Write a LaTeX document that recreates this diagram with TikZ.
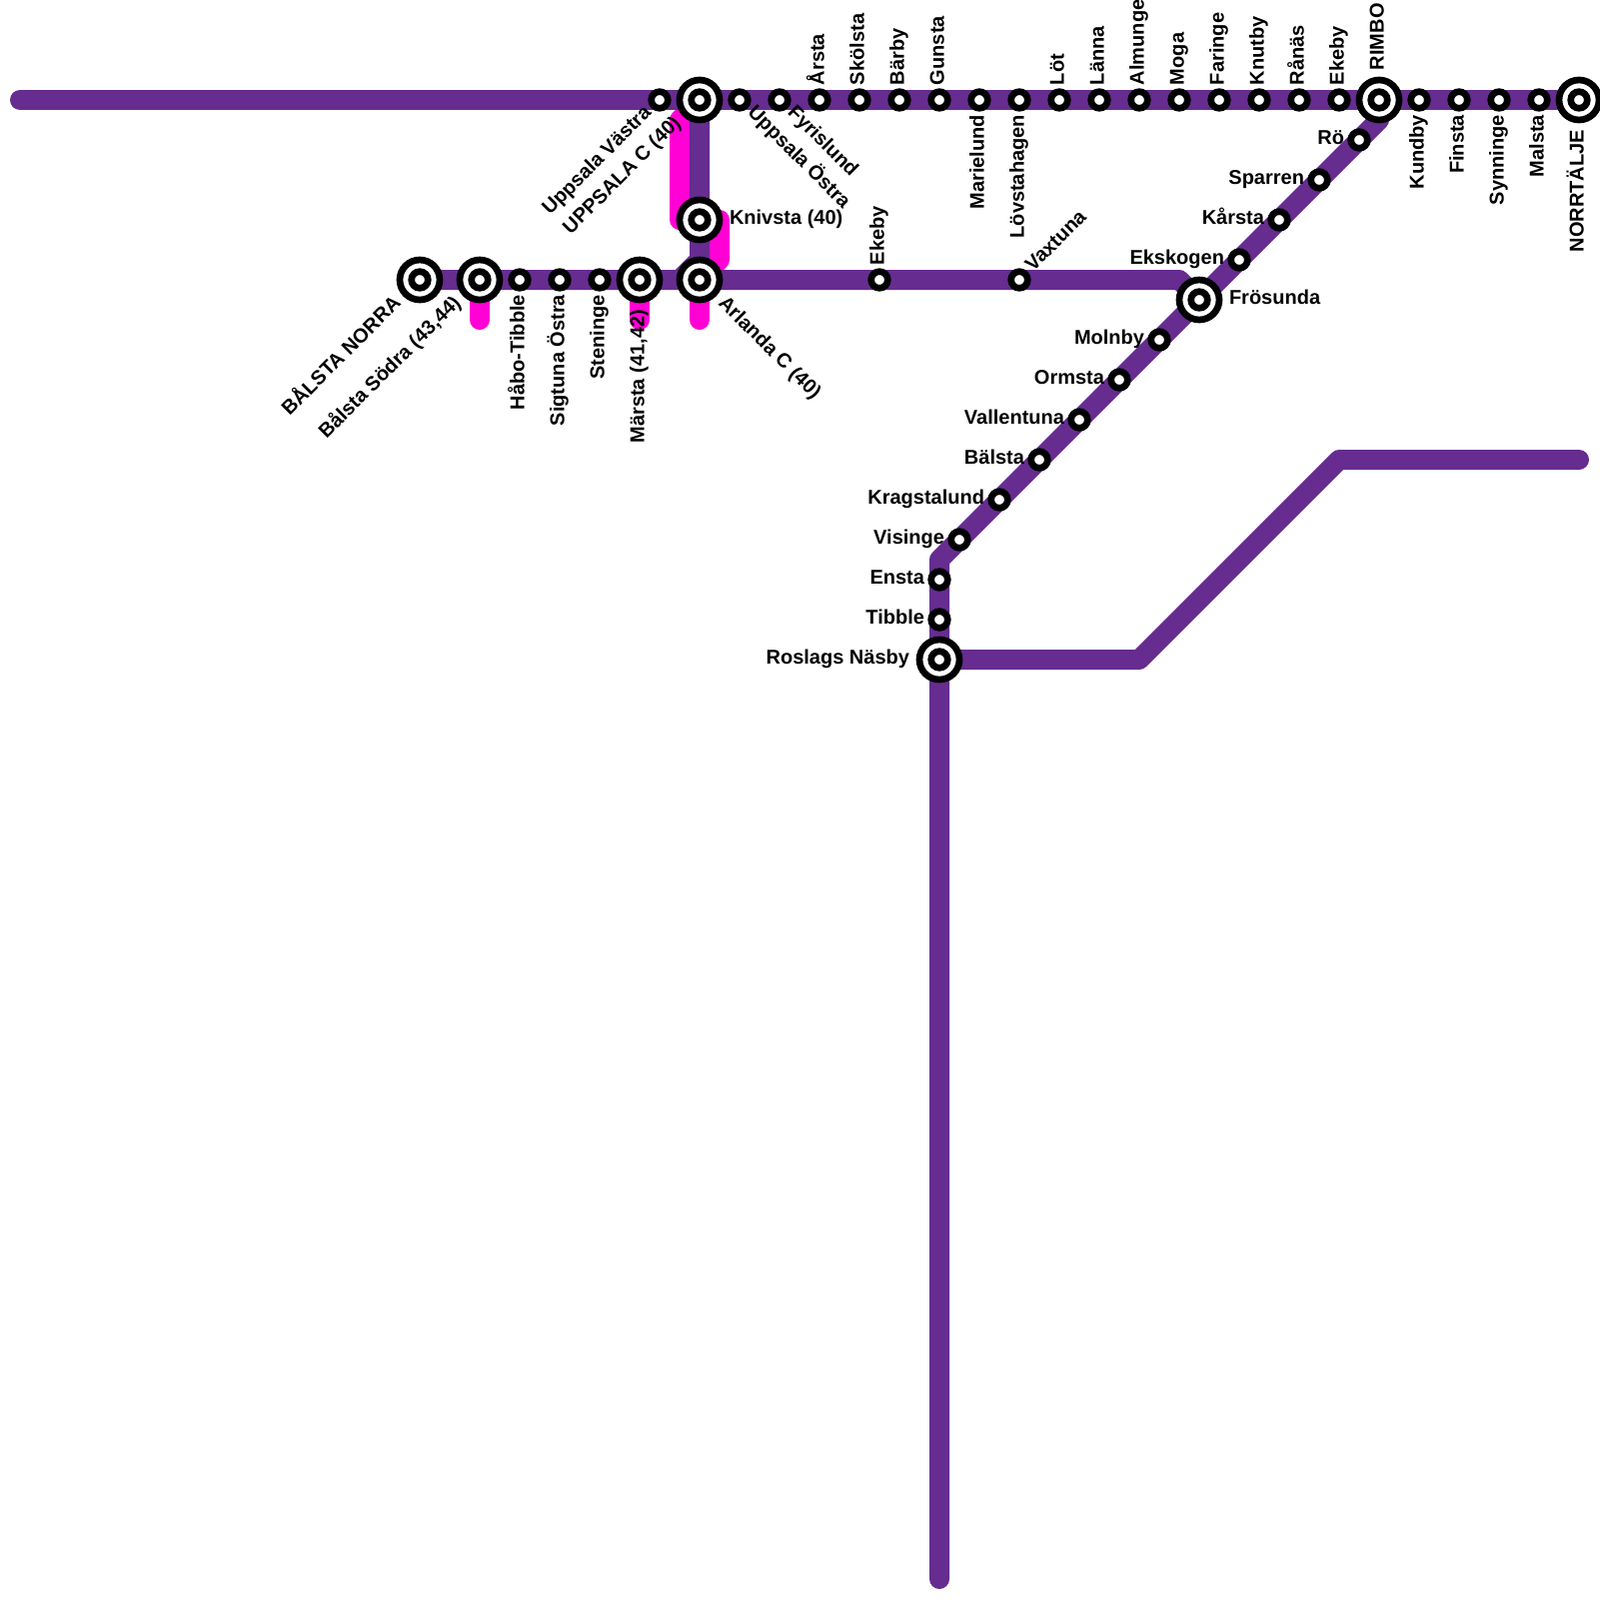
\documentclass[tikz,border=0pt]{standalone}
\usepackage{fontspec}
\setmainfont{Liberation Sans}
\usetikzlibrary{backgrounds, calc}
\definecolor{cLINE}{HTML}{662C90}
\definecolor{cBRANCH}{HTML}{FF00D5}
\tikzset{
  trackline/.style={line width=2mm, cLINE, line cap=round, line join=round},
  branchline/.style={line width=2mm, cBRANCH, line cap=round, line join=round},
  halt/.style={circle, draw=black, fill=white, line width=0.67mm, minimum size=1.66mm, inner sep=0pt, outer sep=0pt},
  hub/.style={circle, draw=black, fill=white, line width=0.67mm, minimum size=4mm, inner sep=0pt, outer sep=0pt},
  stnlabel/.style={font=\bfseries\fontsize{5.69}{6.8}\selectfont, inner sep=0pt, outer sep=0pt, text height=0.9mm, text depth=0pt}
}
\begin{document}
\begin{tikzpicture}[x=0.1mm, y=-0.1mm]
  \useasboundingbox (0,0) rectangle (1600,1600);

  % Free ends and bends
  \coordinate (westend) at (20,100);
  \coordinate (southend) at (940,1580);
  \coordinate (eastend) at (1580,460);
  \coordinate (bendA) at (1140,660);
  \coordinate (bendB) at (1340,460);
  \coordinate (bendC) at (940,560);
  \coordinate (bendD) at (1180,280);
  \coordinate (bendE) at (700,260);
  \coordinate (bendF) at (680,280);
  \coordinate (bendG) at (1380,120);

  % Top line
  \node[halt] (uppvastra) at (660,100) {};
  \node[hub] (uppsalaC) at (700,100) {};
  \node[halt] (uppostra) at (740,100) {};
  \node[halt] (fyrislund) at (780,100) {};
  \node[halt] (arsta) at (820,100) {};
  \node[halt] (skolsta) at (860,100) {};
  \node[halt] (barby) at (900,100) {};
  \node[halt] (gunsta) at (940,100) {};
  \node[halt] (marielund) at (980,100) {};
  \node[halt] (lovsta) at (1020,100) {};
  \node[halt] (lot) at (1060,100) {};
  \node[halt] (lanna) at (1100,100) {};
  \node[halt] (almunge) at (1140,100) {};
  \node[halt] (moga) at (1180,100) {};
  \node[halt] (faringe) at (1220,100) {};
  \node[halt] (knutby) at (1260,100) {};
  \node[halt] (ranas) at (1300,100) {};
  \node[halt] (ekebyE) at (1340,100) {};
  \node[hub] (rimbo) at (1380,100) {};
  \node[halt] (kundby) at (1420,100) {};
  \node[halt] (finsta) at (1460,100) {};
  \node[halt] (synninge) at (1500,100) {};
  \node[halt] (malsta) at (1540,100) {};
  \node[hub] (norrtalje) at (1580,100) {};

  % Middle line
  \node[hub] (balstaN) at (420,280) {};
  \node[hub] (balstaS) at (480,280) {};
  \node[halt] (habo) at (520,280) {};
  \node[halt] (sigtuna) at (560,280) {};
  \node[halt] (steninge) at (600,280) {};
  \node[hub] (marsta) at (640,280) {};
  \node[hub] (arlanda) at (700,280) {};
  \node[hub] (knivsta) at (700,220) {};
  \node[halt] (ekebyW) at (880,280) {};
  \node[halt] (vaxtuna) at (1020,280) {};

  % Diagonal
  \node[halt] (ro) at (1360,140) {};
  \node[halt] (sparren) at (1320,180) {};
  \node[halt] (karsta) at (1280,220) {};
  \node[halt] (ekskogen) at (1240,260) {};
  \node[hub] (frosunda) at (1200,300) {};
  \node[halt] (molnby) at (1160,340) {};
  \node[halt] (ormsta) at (1120,380) {};
  \node[halt] (vallentuna) at (1080,420) {};
  \node[halt] (balsta) at (1040,460) {};
  \node[halt] (kragsta) at (1000,500) {};
  \node[halt] (visinge) at (960,540) {};
  \node[halt] (ensta) at (940,580) {};
  \node[halt] (tibble) at (940,620) {};
  \node[hub] (roslags) at (940,660) {};

  % Inner rings of the hubs
  \node[halt] (uppsalaCin) at (uppsalaC) {};
  \node[halt] (rimboin) at (rimbo) {};
  \node[halt] (norrtaljein) at (norrtalje) {};
  \node[halt] (balstaNin) at (balstaN) {};
  \node[halt] (balstaSin) at (balstaS) {};
  \node[halt] (marstain) at (marsta) {};
  \node[halt] (arlandain) at (arlanda) {};
  \node[halt] (knivstain) at (knivsta) {};
  \node[halt] (frosundain) at (frosunda) {};
  \node[halt] (roslagsin) at (roslags) {};

  % Tracks
  \begin{scope}[on background layer]
    \draw[branchline] (uppsalaC.center) -- (680,120) -- (680,220);
    \draw[branchline] (720,220) -- (720,260) -- (arlanda.center);
    \draw[branchline] (balstaS.center) -- (480,320);
    \draw[branchline] (marsta.center) -- (640,320);
    \draw[branchline] (arlanda.center) -- (700,320);
    \draw[trackline] (westend) -- (norrtalje.center);
    \draw[trackline] (uppsalaC.center) -- (bendE) -- (bendF) -- (balstaN.center);
    \draw[trackline] (arlanda.center) -- (bendD) -- (frosunda.center);
    \draw[trackline] (rimbo.center) -- (bendG) -- (bendC) -- (southend);
    \draw[trackline] (roslags.center) -- (bendA) -- (bendB) -- (eastend);
  \end{scope}

  % Labels
  \node[stnlabel, rotate=45, anchor=east] (lUppvastra) at (649.4,110.6) {Uppsala Västra};
  \node[stnlabel, rotate=45, anchor=east] (lUppsalaC) at (678.8,121.2) {UPPSALA C (40)};
  \node[stnlabel, rotate=-45, anchor=west] (lUppostra) at (750.6,110.6) {Uppsala Östra};
  \node[stnlabel, rotate=-45, anchor=west] (lFyrislund) at (790.6,110.6) {Fyrislund};
  \node[stnlabel, rotate=90, anchor=west] (lArsta) at (820,85) {Årsta};
  \node[stnlabel, rotate=90, anchor=west] (lSkolsta) at (860,85) {Skölsta};
  \node[stnlabel, rotate=90, anchor=west] (lBarby) at (900,85) {Bärby};
  \node[stnlabel, rotate=90, anchor=west] (lGunsta) at (940,85) {Gunsta};
  \node[stnlabel, rotate=90, anchor=east] (lMarielund) at (980,115) {Marielund};
  \node[stnlabel, rotate=90, anchor=east] (lLovsta) at (1020,115) {Lövstahagen};
  \node[stnlabel, rotate=90, anchor=west] (lLot) at (1060,85) {Löt};
  \node[stnlabel, rotate=90, anchor=west] (lLanna) at (1100,85) {Länna};
  \node[stnlabel, rotate=90, anchor=west] (lAlmunge) at (1140,85) {Almunge};
  \node[stnlabel, rotate=90, anchor=west] (lMoga) at (1180,85) {Moga};
  \node[stnlabel, rotate=90, anchor=west] (lFaringe) at (1220,85) {Faringe};
  \node[stnlabel, rotate=90, anchor=west] (lKnutby) at (1260,85) {Knutby};
  \node[stnlabel, rotate=90, anchor=west] (lRanas) at (1300,85) {Rånäs};
  \node[stnlabel, rotate=90, anchor=west] (lEkebyE) at (1340,85) {Ekeby};
  \node[stnlabel, rotate=90, anchor=west] (lRimbo) at (1380,70) {RIMBO};
  \node[stnlabel, rotate=90, anchor=east] (lKundby) at (1420,115) {Kundby};
  \node[stnlabel, rotate=90, anchor=east] (lFinsta) at (1460,115) {Finsta};
  \node[stnlabel, rotate=90, anchor=east] (lSynninge) at (1500,115) {Synninge};
  \node[stnlabel, rotate=90, anchor=east] (lMalsta) at (1540,115) {Malsta};
  \node[stnlabel, rotate=90, anchor=east] (lNorrtalje) at (1580,130) {NORRTÄLJE};

  \node[stnlabel, rotate=45, anchor=east] (lBalstaN) at (398.8,301.2) {BÅLSTA NORRA};
  \node[stnlabel, rotate=45, anchor=east] (lBalstaS) at (458.8,301.2) {Bålsta Södra (43,44)};
  \node[stnlabel, rotate=90, anchor=east] (lHabo) at (520,295) {Håbo-Tibble};
  \node[stnlabel, rotate=90, anchor=east] (lSigtuna) at (560,295) {Sigtuna Östra};
  \node[stnlabel, rotate=90, anchor=east] (lSteninge) at (600,295) {Steninge};
  \node[stnlabel, rotate=90, anchor=east] (lMarsta) at (640,310) {Märsta (41,42)};
  \node[stnlabel, rotate=-45, anchor=west] (lArlanda) at (721.2,301.2) {Arlanda C (40)};
  \node[stnlabel, anchor=west] (lKnivsta) at (730,220) {Knivsta (40)};
  \node[stnlabel, rotate=90, anchor=west] (lEkebyW) at (880,265) {Ekeby};
  \node[stnlabel, rotate=45, anchor=west] (lVaxtuna) at (1030.6,269.4) {Vaxtuna};

  \node[stnlabel, anchor=east] (lRo) at (1345,140) {Rö};
  \node[stnlabel, anchor=east] (lSparren) at (1305,180) {Sparren};
  \node[stnlabel, anchor=east] (lKarsta) at (1265,220) {Kårsta};
  \node[stnlabel, anchor=east] (lEkskogen) at (1225,260) {Ekskogen};
  \node[stnlabel, anchor=west] (lFrosunda) at (1230,300) {Frösunda};
  \node[stnlabel, anchor=east] (lMolnby) at (1145,340) {Molnby};
  \node[stnlabel, anchor=east] (lOrmsta) at (1105,380) {Ormsta};
  \node[stnlabel, anchor=east] (lVallentuna) at (1065,420) {Vallentuna};
  \node[stnlabel, anchor=east] (lBalsta) at (1025,460) {Bälsta};
  \node[stnlabel, anchor=east] (lKragsta) at (985,500) {Kragstalund};
  \node[stnlabel, anchor=east] (lVisinge) at (945,540) {Visinge};
  \node[stnlabel, anchor=east] (lEnsta) at (925,580) {Ensta};
  \node[stnlabel, anchor=east] (lTibble) at (925,620) {Tibble};
  \node[stnlabel, anchor=east] (lRoslags) at (910,660) {Roslags Näsby};
\end{tikzpicture}
\end{document}
